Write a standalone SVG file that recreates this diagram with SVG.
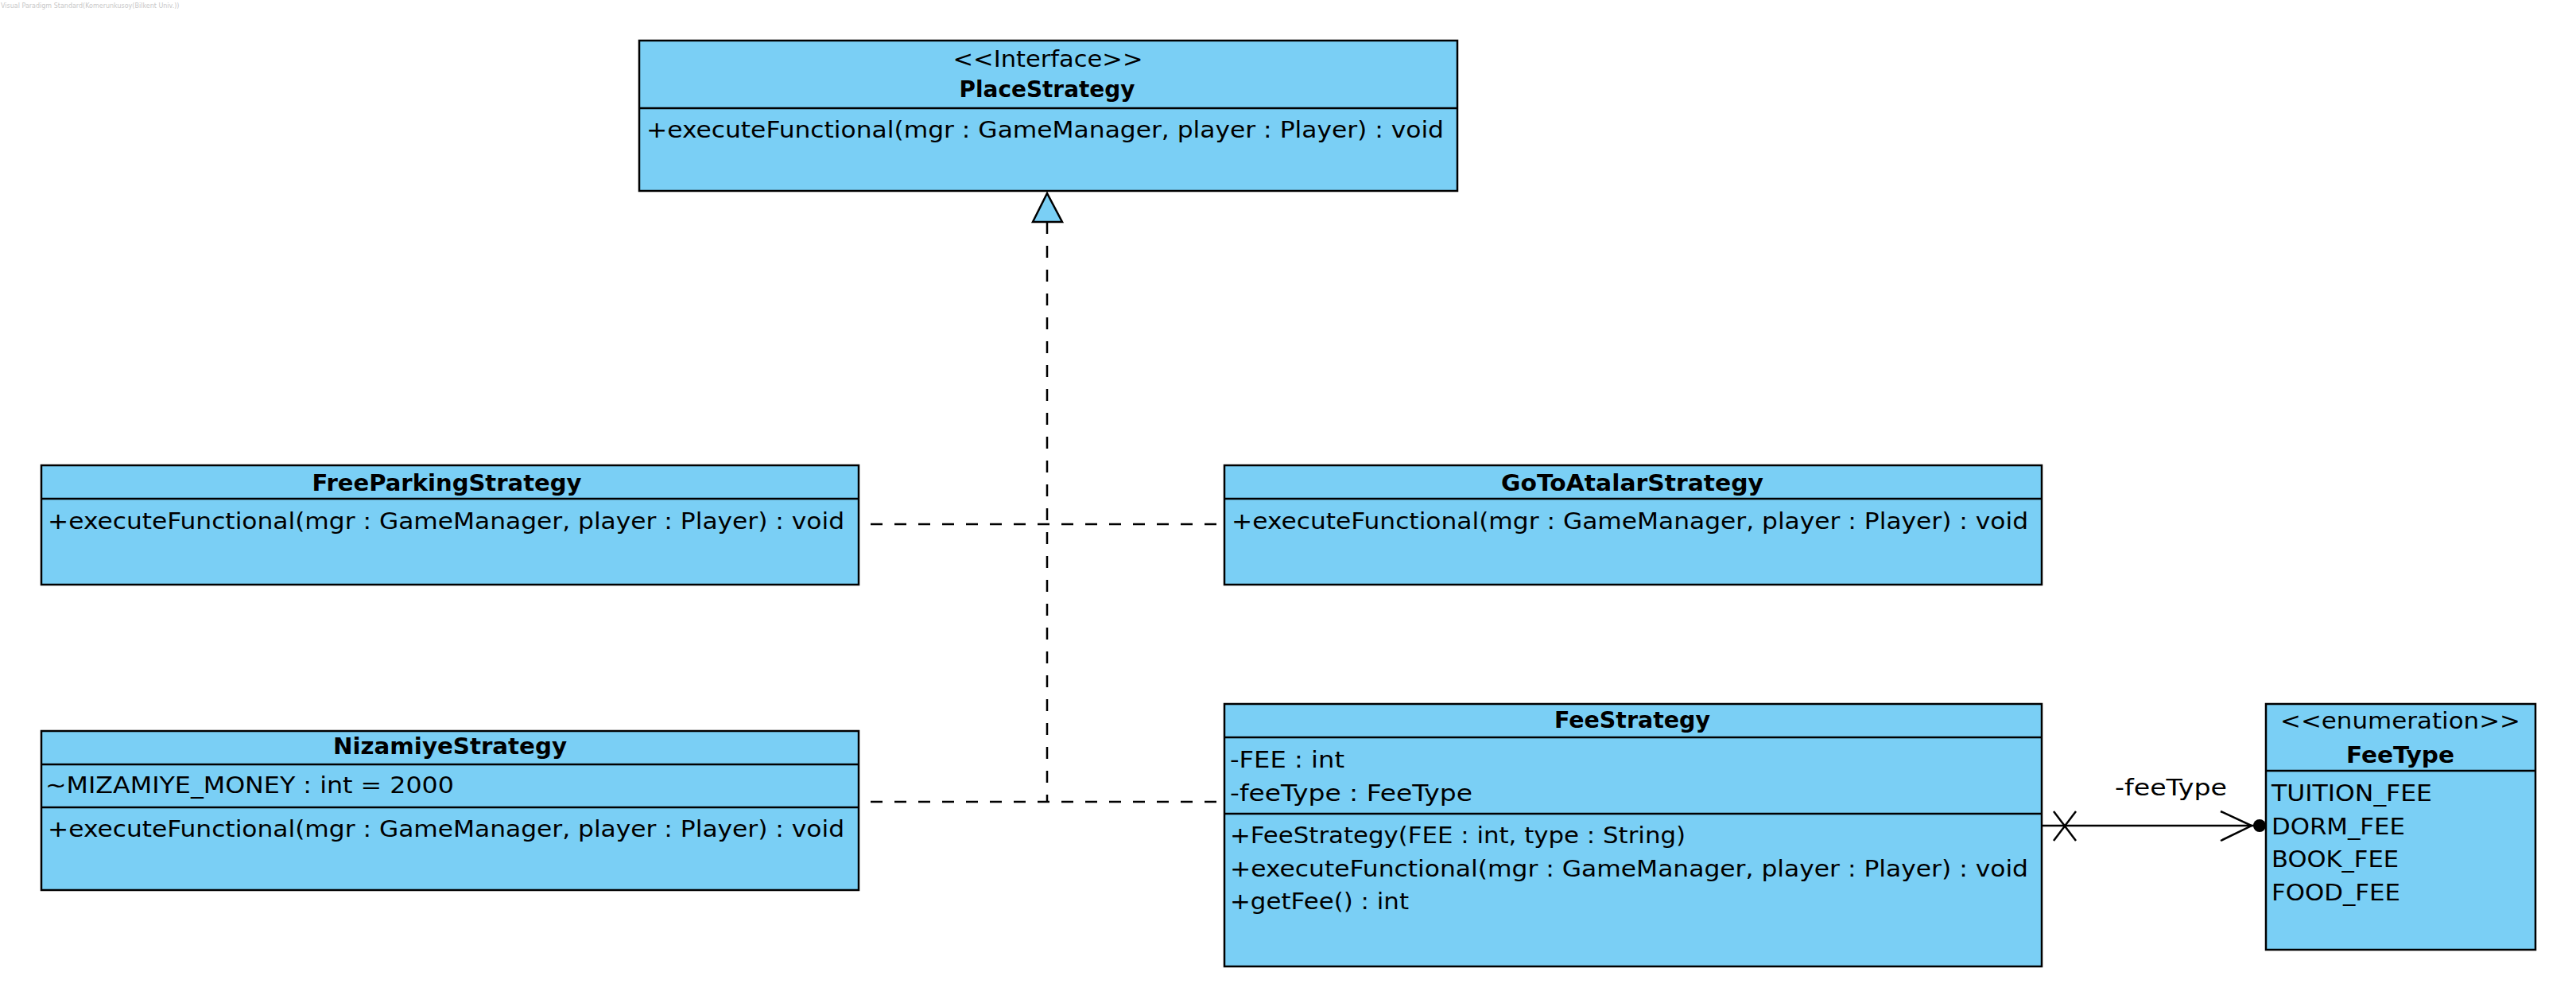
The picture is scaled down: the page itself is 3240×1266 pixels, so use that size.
<svg xmlns="http://www.w3.org/2000/svg" width="3240" height="1266" viewBox="0 0 3240 1266">
<style>
.box{fill:#7acff5;stroke:#000;stroke-width:2.5}
.div{stroke:#000;stroke-width:2.5}
text{font-family:"DejaVu Sans","Liberation Sans",sans-serif;font-size:29px;fill:#000}
.b{font-weight:bold}
.m{text-anchor:middle}
.dash{stroke:#000;stroke-width:2.5;stroke-dasharray:15 15;fill:none}
.solid{stroke:#000;stroke-width:2.5;fill:none}
</style>
<rect width="3240" height="1266" fill="#fff"/>
<text x="1" y="10" style="font-size:8px;fill:#c8c8c8">Visual Paradigm Standard(Komerunkusoy(Bilkent Univ.))</text>

<g id="PlaceStrategy">
<rect class="box" x="804" y="51" width="1029" height="189"/>
<line class="div" x1="804" y1="136" x2="1833" y2="136"/>
<text class="m" x="1318" y="84" textLength="239" lengthAdjust="spacingAndGlyphs">&lt;&lt;Interface&gt;&gt;</text>
<text class="m b" x="1317" y="122" textLength="221" lengthAdjust="spacingAndGlyphs">PlaceStrategy</text>
<text x="813" y="173" textLength="1003" lengthAdjust="spacingAndGlyphs">+executeFunctional(mgr : GameManager, player : Player) : void</text>
</g>

<g id="FreeParkingStrategy">
<rect class="box" x="52" y="585" width="1028" height="150"/>
<line class="div" x1="52" y1="627" x2="1080" y2="627"/>
<text class="m b" x="562" y="617" textLength="339" lengthAdjust="spacingAndGlyphs">FreeParkingStrategy</text>
<text x="60" y="665" textLength="1002" lengthAdjust="spacingAndGlyphs">+executeFunctional(mgr : GameManager, player : Player) : void</text>
</g>

<g id="GoToAtalarStrategy">
<rect class="box" x="1540" y="585" width="1028" height="150"/>
<line class="div" x1="1540" y1="627" x2="2568" y2="627"/>
<text class="m b" x="2053" y="617" textLength="330" lengthAdjust="spacingAndGlyphs">GoToAtalarStrategy</text>
<text x="1549" y="665" textLength="1002" lengthAdjust="spacingAndGlyphs">+executeFunctional(mgr : GameManager, player : Player) : void</text>
</g>

<g id="NizamiyeStrategy">
<rect class="box" x="52" y="919" width="1028" height="200"/>
<line class="div" x1="52" y1="961" x2="1080" y2="961"/>
<line class="div" x1="52" y1="1015" x2="1080" y2="1015"/>
<text class="m b" x="566" y="948" textLength="294" lengthAdjust="spacingAndGlyphs">NizamiyeStrategy</text>
<text x="57" y="997" textLength="514" lengthAdjust="spacingAndGlyphs">~MIZAMIYE_MONEY : int = 2000</text>
<text x="60" y="1052" textLength="1002" lengthAdjust="spacingAndGlyphs">+executeFunctional(mgr : GameManager, player : Player) : void</text>
</g>

<g id="FeeStrategy">
<rect class="box" x="1540" y="885" width="1028" height="330"/>
<line class="div" x1="1540" y1="927" x2="2568" y2="927"/>
<line class="div" x1="1540" y1="1023" x2="2568" y2="1023"/>
<text class="m b" x="2053" y="915" textLength="196" lengthAdjust="spacingAndGlyphs">FeeStrategy</text>
<text x="1547" y="965" textLength="144" lengthAdjust="spacingAndGlyphs">-FEE : int</text>
<text x="1547" y="1007" textLength="305" lengthAdjust="spacingAndGlyphs">-feeType : FeeType</text>
<text x="1547" y="1060" textLength="573" lengthAdjust="spacingAndGlyphs">+FeeStrategy(FEE : int, type : String)</text>
<text x="1547" y="1102" textLength="1004" lengthAdjust="spacingAndGlyphs">+executeFunctional(mgr : GameManager, player : Player) : void</text>
<text x="1547" y="1143" textLength="225" lengthAdjust="spacingAndGlyphs">+getFee() : int</text>
</g>

<g id="FeeType">
<rect class="box" x="2850" y="885" width="339" height="309"/>
<line class="div" x1="2850" y1="969" x2="3189" y2="969"/>
<text class="m" x="3019" y="916" textLength="302" lengthAdjust="spacingAndGlyphs">&lt;&lt;enumeration&gt;&gt;</text>
<text class="m b" x="3019" y="959" textLength="136" lengthAdjust="spacingAndGlyphs">FeeType</text>
<text x="2857" y="1007" textLength="202" lengthAdjust="spacingAndGlyphs">TUITION_FEE</text>
<text x="2857" y="1049" textLength="168" lengthAdjust="spacingAndGlyphs">DORM_FEE</text>
<text x="2857" y="1090" textLength="160" lengthAdjust="spacingAndGlyphs">BOOK_FEE</text>
<text x="2857" y="1132" textLength="162" lengthAdjust="spacingAndGlyphs">FOOD_FEE</text>
</g>

<g id="connectors">
<line class="dash" x1="1317" y1="279" x2="1317" y2="1008"/>
<polygon points="1317,243 1299,279 1336,279" fill="#7acff5" stroke="#000" stroke-width="2.5"/>
<line class="dash" x1="1095" y1="659" x2="1540" y2="659"/>
<line class="dash" x1="1095" y1="1008" x2="1540" y2="1008"/>
<line class="solid" x1="2568" y1="1038" x2="2840" y2="1038"/>
<line class="solid" x1="2583" y1="1020" x2="2611" y2="1057"/>
<line class="solid" x1="2583" y1="1057" x2="2611" y2="1020"/>
<polyline class="solid" points="2793,1020 2832,1038 2793,1057"/>
<circle cx="2842" cy="1038" r="8" fill="#000"/>
<text x="2660" y="1000" style="font-size:28px" textLength="141" lengthAdjust="spacingAndGlyphs">-feeType</text>
</g>
</svg>
